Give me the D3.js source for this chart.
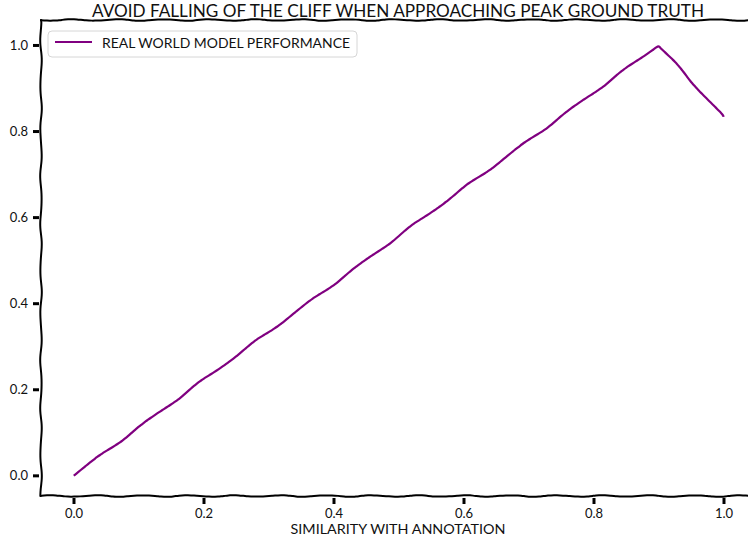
<!DOCTYPE html>
<html><head><meta charset="utf-8">
<script src="https://cdn.jsdelivr.net/npm/d3@7"></script>
<style>
html,body{margin:0;padding:0;background:#fff;}
svg{display:block;}
text{font-family:Lato,"Open Sans",sans-serif;fill:#111;}
</style></head>
<body>
<script>
const xValues = [0, 0.1, 0.2, 0.3, 0.4, 0.5, 0.6, 0.7, 0.8, 0.9, 1.0];
const yValues = [0, 0.111, 0.222, 0.333, 0.444, 0.556, 0.667, 0.778, 0.889, 1.0, 0.833];
const xTicks = [0.0, 0.2, 0.4, 0.6, 0.8, 1.0];
const yTicks = [0.0, 0.2, 0.4, 0.6, 0.8, 1.0];
const seriesName = "REAL WORLD MODEL PERFORMANCE";
const titleText = "AVOID FALLING OF THE CLIFF WHEN APPROACHING PEAK GROUND TRUTH";
const xLabel = "SIMILARITY WITH ANNOTATION";

const W = 748, H = 537;
const svg = d3.select("body").append("svg").attr("width", W).attr("height", H);

const x = d3.scaleLinear().domain([-0.05, 1.05]).range([41, 756]);
const y = d3.scaleLinear().domain([-0.048, 1.058]).range([496, 20]);

// xkcd-style sketch effect: resample a drawn path and offset it smoothly
function sketch(d, seed, amp, period) {
  const tmp = svg.append("path").attr("d", d);
  const node = tmp.node();
  const L = node.getTotalLength();
  const pts = [];
  const step = 3;
  const p1 = seed * 1.7, p2 = seed * 0.61 + 1.3;
  for (let s = 0; s <= L; s += step) {
    const a = node.getPointAtLength(s);
    const b = node.getPointAtLength(Math.min(L, s + 0.5));
    const c = node.getPointAtLength(Math.max(0, s - 0.5));
    let dx = b.x - c.x, dy = b.y - c.y;
    const n = Math.hypot(dx, dy) || 1;
    dx /= n; dy /= n;
    const off = amp * (0.85 * Math.sin(2 * Math.PI * s / period + p1) + 0.15 * Math.sin(2 * Math.PI * s / (period * 0.57) + p2));
    pts.push([a.x - dy * off, a.y + dx * off]);
  }
  const e = node.getPointAtLength(L);
  pts.push([e.x, e.y]);
  tmp.remove();
  return d3.line().curve(d3.curveBasis)(pts);
}

const gAx = svg.append("g");
const x0 = x(-0.05), x1 = x(1.05), yb = y(-0.048), yt = y(1.058);
const spines = [
  [[x0, yb], [x1, yb]],
  [[x0, yb], [x0, yt]],
  [[x0, yt], [x1, yt]]
];
spines.forEach((s, i) => {
  const d = sketch(d3.line()(s), i + 2, 0.85, 46);
  gAx.append("path").attr("d", d).attr("fill", "none").attr("stroke", "#000").attr("stroke-width", 2).attr("stroke-linecap", "round");
});

// data line
const data = xValues.map((v, i) => [v, yValues[i]]);
const lineGen = d3.line().x(d => x(d[0])).y(d => y(d[1]));
const ld = sketch(lineGen(data), 5, 0.95, 66);
svg.append("path").attr("d", ld).attr("fill", "none").attr("stroke", "#fff").attr("stroke-width", 5);
svg.append("path").attr("d", ld).attr("fill", "none").attr("stroke", "#800080").attr("stroke-width", 2.2).attr("stroke-linejoin", "round");

// axes
const xAxis = d3.axisBottom(x).tickValues(xTicks).tickFormat(d3.format(".1f")).tickSize(6).tickPadding(5);
const gx = svg.append("g").attr("transform", `translate(0,${yb + 2})`).call(xAxis);
gx.select(".domain").remove();
gx.selectAll(".tick line").attr("stroke", "#000").attr("stroke-width", 3);
gx.selectAll(".tick text").attr("font-size", 13).style("font-family", "Lato, 'Open Sans', sans-serif").attr("fill", "#222");

const yAxis = d3.axisLeft(y).tickValues(yTicks).tickFormat(d3.format(".1f")).tickSize(6).tickPadding(5);
const gy = svg.append("g").attr("transform", `translate(${x0 - 2},0)`).call(yAxis);
gy.select(".domain").remove();
gy.selectAll(".tick line").attr("stroke", "#000").attr("stroke-width", 3);
gy.selectAll(".tick text").attr("font-size", 13).style("font-family", "Lato, 'Open Sans', sans-serif").attr("fill", "#222");

// title
svg.append("text").attr("x", 398).attr("y", 17).attr("text-anchor", "middle").attr("font-size", 18)
  .attr("textLength", 612).attr("lengthAdjust", "spacingAndGlyphs").text(titleText);

// x label
svg.append("text").attr("x", 398).attr("y", 534).attr("text-anchor", "middle").attr("font-size", 14)
  .attr("textLength", 215).attr("lengthAdjust", "spacingAndGlyphs").text(xLabel);

// legend
const lg = svg.append("g");
lg.append("rect").attr("x", 48).attr("y", 31).attr("width", 309).attr("height", 26).attr("rx", 4)
  .attr("fill", "#fff").attr("fill-opacity", 0.8).attr("stroke", "#d6d6d6").attr("stroke-width", 1);
lg.append("line").attr("x1", 55).attr("x2", 92).attr("y1", 42).attr("y2", 42).attr("stroke", "#800080").attr("stroke-width", 2.2);
lg.append("text").attr("x", 102).attr("y", 48).attr("font-size", 14)
  .attr("textLength", 248).attr("lengthAdjust", "spacingAndGlyphs").text(seriesName);
</script>
</body></html>
